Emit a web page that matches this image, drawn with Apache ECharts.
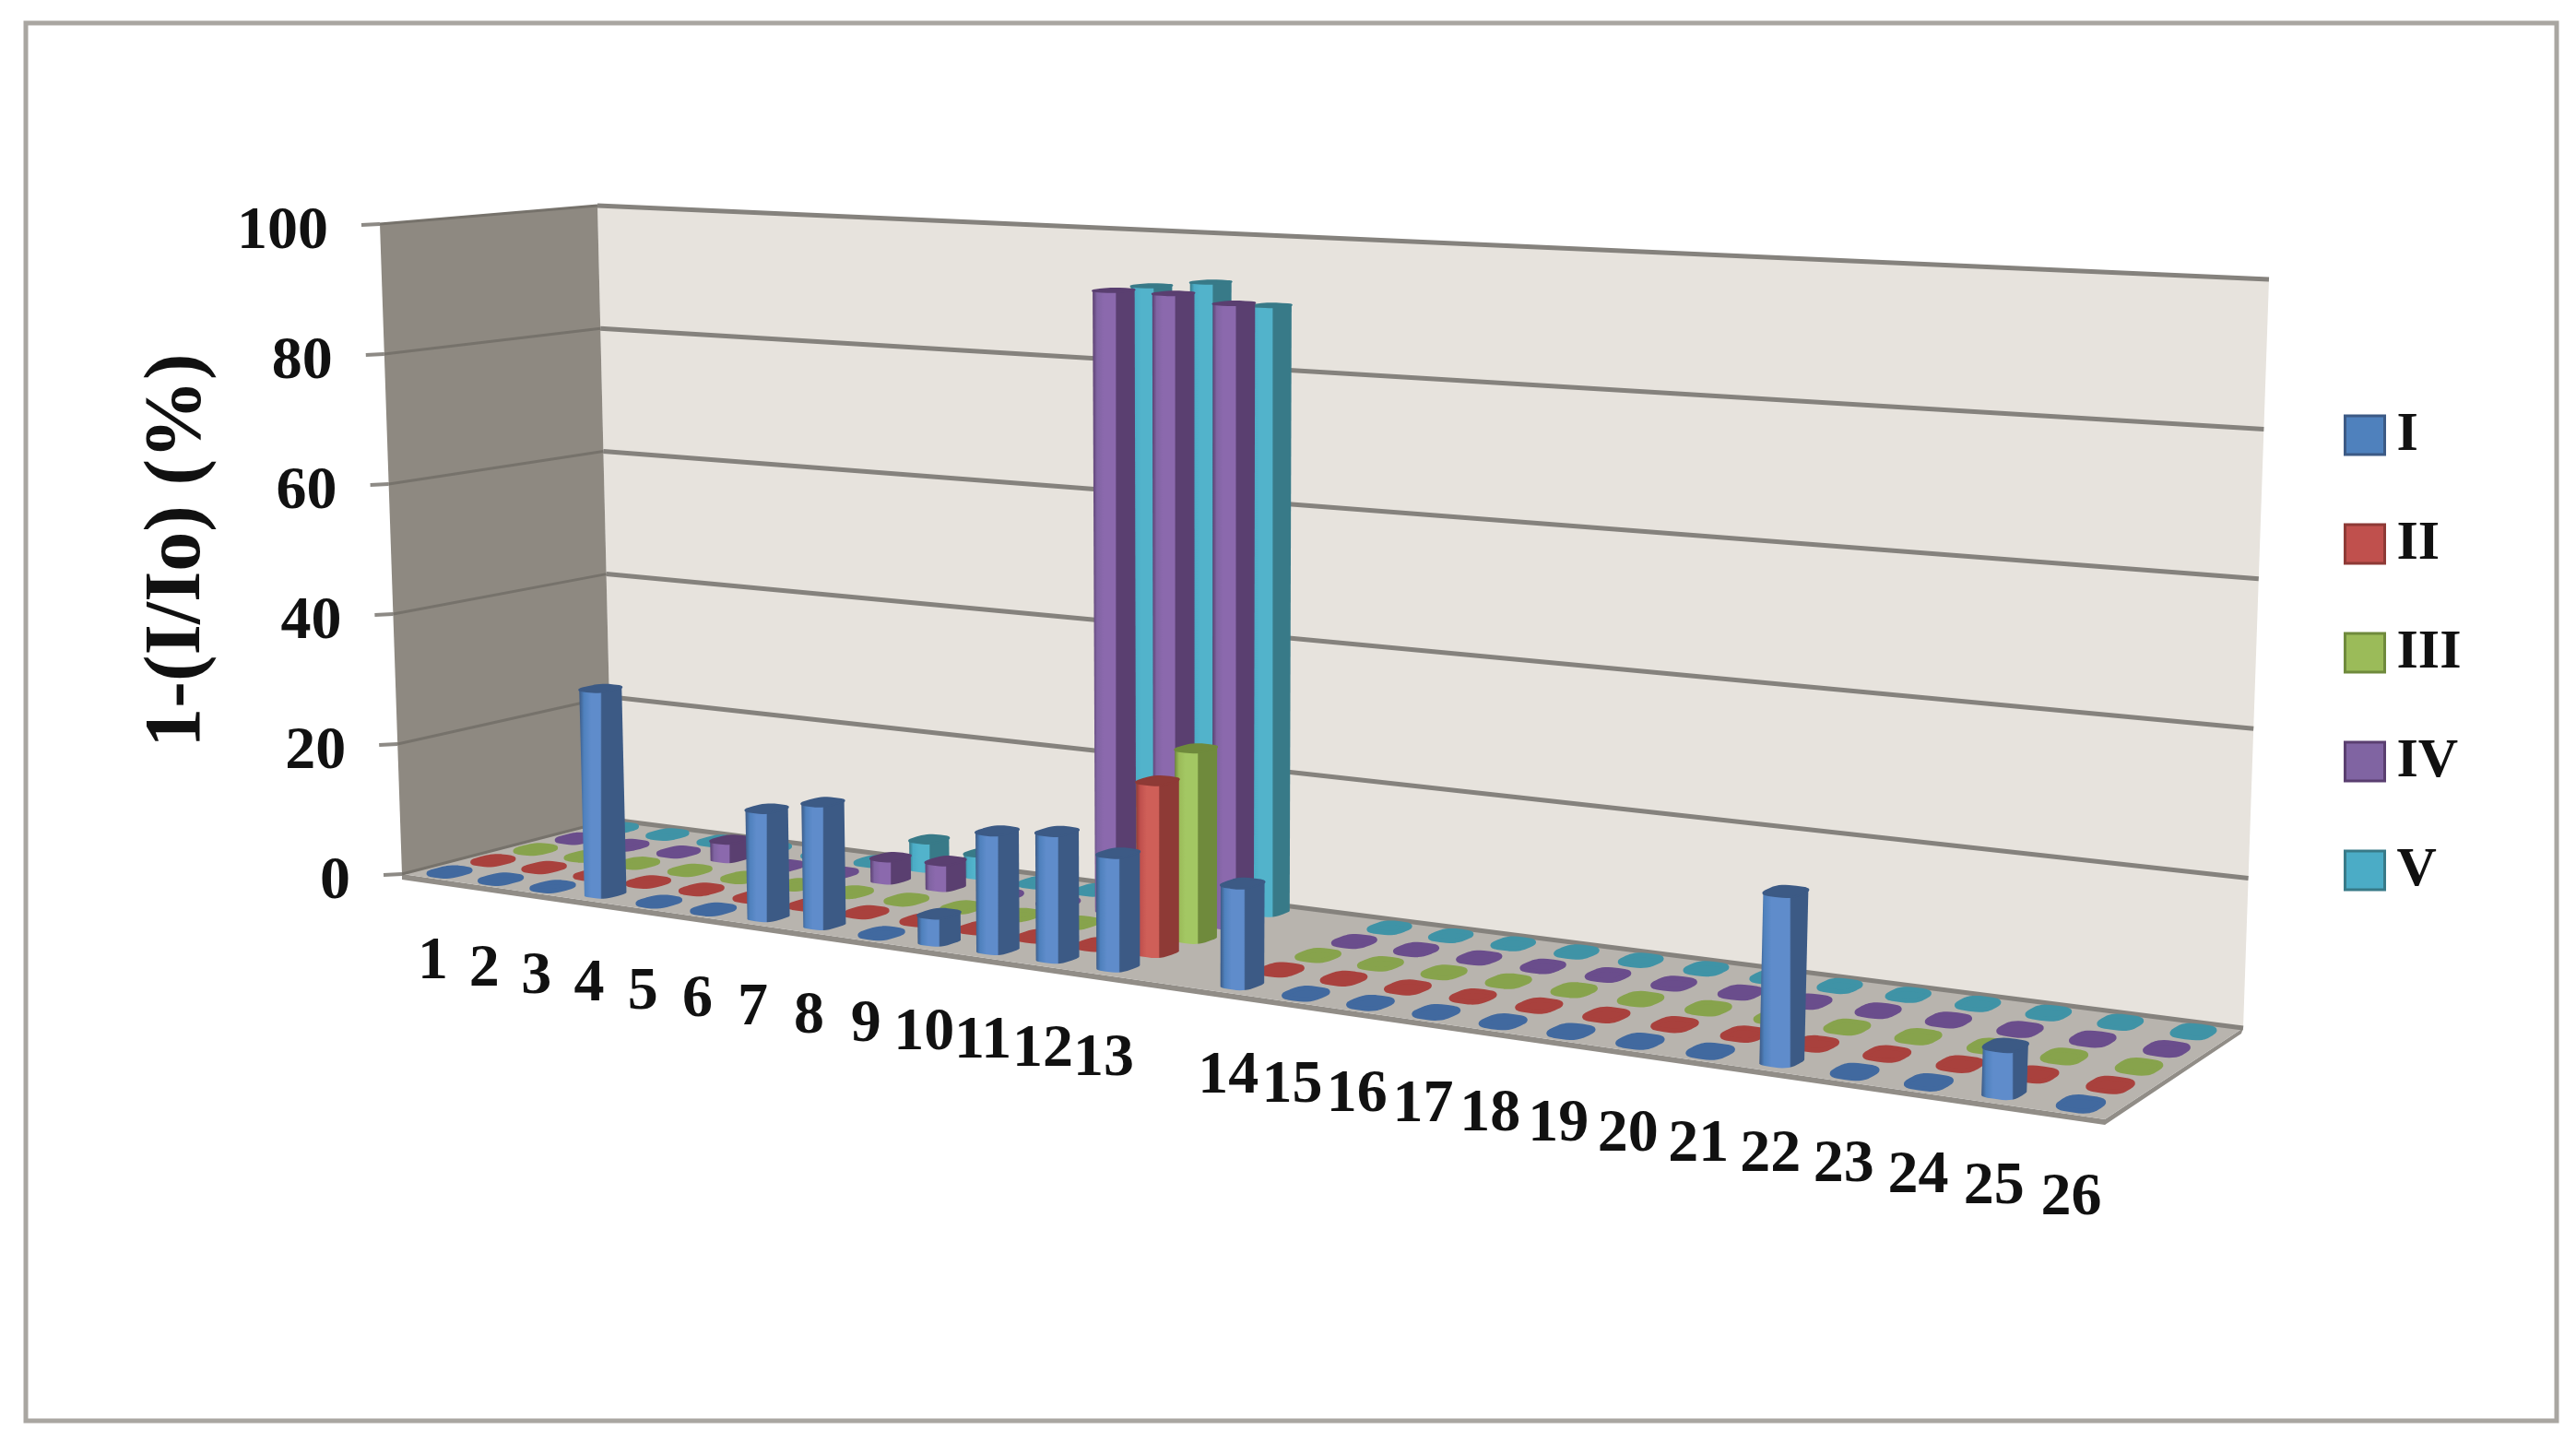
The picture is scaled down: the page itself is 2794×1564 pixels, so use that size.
<!DOCTYPE html>
<html>
<head>
<meta charset="utf-8">
<title>1-(I/Io) (%)</title>
<script src="https://cdn.jsdelivr.net/npm/echarts@6/dist/echarts.min.js"></script>
<style>
  html, body { margin: 0; padding: 0; background: #fff; }
  #chart { width: 2794px; height: 1564px; }
</style>
</head>
<body>
<div id="chart"></div>
<script>
// 数据 (the empty slot between 13 and 14 is in the original chart)
const categories = ['1','2','3','4','5','6','7','8','9','10','11','12','13','','14','15','16','17','18','19','20','21','22','23','24','25','26']
const yTicks = [0, 20, 40, 60, 80, 100]
const seriesNames = ['I', 'II', 'III', 'IV', 'V']
const valuesI = [0,0,0,31,0,0,16,18,0,4,17,18,16,null,14,0,0,0,0,0,0,0,22,0,0,6,0]
const valuesII = [0,0,0,0,0,0,0,0,0,0,0,0,24.5,null,0,0,0,0,0,0,0,0,0,0,0,0,0]
const valuesIII = [0,0,0,0,0,0,0,0,0,0,0,0,27.5,null,0,0,0,0,0,0,0,0,0,0,0,0,0]
const valuesIV = [0,0,0,3,0,0,3.5,4,0,0,92,92,91,null,0,0,0,0,0,0,0,0,0,0,0,0,0]
const valuesV = [0,0,0,0,0,0,4.5,3.5,0,0,92,93,90,null,0,0,0,0,0,0,0,0,0,0,0,0,0]
const allValues = [valuesI, valuesII, valuesIII, valuesIV, valuesV]

const FONT = '"Liberation Serif", serif'
const baseColors = ['#4f81bd', '#c0504d', '#9bbb59', '#8064a2', '#4bacc6']
const lightColors = ['#5f8ccb', '#cf5f58', '#a3c763', '#8b69ad', '#52b3cb']
const darkColors = ['#3c5a85', '#8e3a36', '#6f8a3c', '#5a3f70', '#387a88']
const flatColors = ['#41699f', '#a9413d', '#87a34c', '#6a4d8c', '#3f93a6']

// 盒子的八个角 (camera of the 3D view, in page pixels)
const floorQuad = [[436, 948], [2283, 1214], [2433, 1115], [664, 889]]
const topQuad = [[412, 243], [2313, 335], [2461, 303], [648, 223]]
const U_WARP = 0.93

function makeHomography(q) {
  const [p0, p1, p2, p3] = q
  const dx1 = p1[0] - p2[0], dx2 = p3[0] - p2[0], sx = p0[0] - p1[0] + p2[0] - p3[0]
  const dy1 = p1[1] - p2[1], dy2 = p3[1] - p2[1], sy = p0[1] - p1[1] + p2[1] - p3[1]
  const den = dx1 * dy2 - dx2 * dy1
  const g = (sx * dy2 - dx2 * sy) / den
  const h = (dx1 * sy - sx * dy1) / den
  const a = p1[0] - p0[0] + g * p1[0], b = p3[0] - p0[0] + h * p3[0]
  const d = p1[1] - p0[1] + g * p1[1], e = p3[1] - p0[1] + h * p3[1]
  return (u, w) => {
    const k = g * u + h * w + 1
    return [(a * u + b * w + p0[0]) / k, (d * u + e * w + p0[1]) / k]
  }
}

const floorMap = makeHomography(floorQuad)

function lerp(a, b, f) {
  return a + (b - a) * f
}

// u: along categories, w: depth, t: height (all 0..1)
function project(u, w, t) {
  const uu = u / (u + U_WARP * (1 - u))
  const p = floorMap(uu, w)
  // the height vector changes linearly across the page so grid lines stay straight
  const leftEnd = floorMap(0, w), rightEnd = floorMap(1, w)
  const f = (p[0] - leftEnd[0]) / (rightEnd[0] - leftEnd[0])
  const dx = lerp(
    lerp(topQuad[0][0] - floorQuad[0][0], topQuad[3][0] - floorQuad[3][0], w),
    lerp(topQuad[1][0] - floorQuad[1][0], topQuad[2][0] - floorQuad[2][0], w), f)
  const dy = lerp(
    lerp(topQuad[0][1] - floorQuad[0][1], topQuad[3][1] - floorQuad[3][1], w),
    lerp(topQuad[1][1] - floorQuad[1][1], topQuad[2][1] - floorQuad[2][1], w), f)
  return [p[0] + dx * t, p[1] + dy * t]
}

// 把隐藏坐标轴的像素值换成 0..1
function toUnit(api, params, slot, value) {
  const pt = api.coord([slot, value])
  const rect = params.coordSys
  return [(pt[0] - rect.x) / rect.width, (rect.y + rect.height - pt[1]) / rect.height]
}

const BAR_U = 0.47 / 27
const BAR_W = 0.62 / 5

function footprint(u0, w0) {
  const pts = []
  for (let i = 0; i < 28; i++) {
    const a = (i / 28) * Math.PI * 2
    const c = Math.cos(a), s = Math.sin(a)
    pts.push([
      u0 + (BAR_U / 2) * Math.sign(c) * Math.pow(Math.abs(c), 0.6),
      w0 + (BAR_W / 2) * Math.sign(s) * Math.pow(Math.abs(s), 0.6)
    ])
  }
  return pts
}

function makeBarItem(idx) {
  return function (params, api) {
    const slot = api.value(0)
    const value = api.value(1)
    if (isNaN(value)) return
    const [u0, t] = toUnit(api, params, slot, value)
    const w0 = (idx + 0.5) / 5
    const foot = footprint(u0, w0)
    const bottom = foot.map(p => project(p[0], p[1], 0))
    const cap = foot.map(p => project(p[0], p[1], t))

    if (value === 0) {
      return {
        type: 'polygon',
        shape: { points: bottom },
        style: { fill: flatColors[idx], stroke: flatColors[idx], lineWidth: 5, lineJoin: 'round' }
      }
    }

    // body outline: right edge, front bottom arc, left edge
    let minI = 0, maxI = 0
    bottom.forEach((p, i) => {
      if (p[0] < bottom[minI][0]) minI = i
      if (p[0] > bottom[maxI][0]) maxI = i
    })
    const arc = []
    for (let i = maxI; i !== minI; i = (i - 1 + 28) % 28) arc.push(bottom[i])
    arc.push(bottom[minI])
    const body = [cap[minI], cap[maxI]].concat(arc)
    const minX = bottom[minI][0], maxX = bottom[maxI][0]
    const corner = project(u0 + BAR_U / 2, w0 - BAR_W / 2, 0)
    const cut = Math.min(0.9, Math.max(0.1, (corner[0] - minX) / (maxX - minX)))

    return {
      type: 'group',
      children: [
        {
          type: 'polygon',
          shape: { points: body },
          style: {
            fill: {
              type: 'linear', x: 0, y: 0, x2: 1, y2: 0,
              colorStops: [
                { offset: 0, color: darkColors[idx] },
                { offset: 0.1, color: baseColors[idx] },
                { offset: 0.25, color: lightColors[idx] },
                { offset: cut - 0.03, color: lightColors[idx] },
                { offset: cut, color: darkColors[idx] },
                { offset: 1, color: darkColors[idx] }
              ]
            }
          }
        },
        {
          type: 'polygon',
          shape: { points: cap },
          style: { fill: darkColors[idx], stroke: darkColors[idx], lineWidth: 2, lineJoin: 'round' }
        }
      ]
    }
  }
}

function renderWalls(params, api) {
  const leftWall = [project(0, 0, 0), project(0, 1, 0), project(0, 1, 1), project(0, 0, 1)]
  const backWall = [project(0, 1, 0), project(1, 1, 0), project(1, 1, 1), project(0, 1, 1)]
  const floor = [project(0, 0, 0), project(1, 0, 0), project(1, 1, 0), project(0, 1, 0)]
  const slab = [floor[0], floor[1], floor[2], [floor[2][0] - 2, floor[2][1] + 6], [floor[1][0], floor[1][1] + 6], [floor[0][0], floor[0][1] + 6]]
  return {
    type: 'group',
    children: [
      { type: 'polygon', shape: { points: backWall }, style: { fill: '#e7e3dd' } },
      { type: 'polygon', shape: { points: leftWall }, style: { fill: '#8e8981' } },
      { type: 'polygon', shape: { points: slab }, style: { fill: '#918d87' } },
      { type: 'polygon', shape: { points: floor }, style: { fill: '#b8b4ae' } }
    ]
  }
}

function renderGridLine(params, api) {
  const t = toUnit(api, params, 0, api.value(0))[1]
  const a = project(0, 0, t), b = project(0, 1, t), c = project(1, 1, t)
  return {
    type: 'group',
    children: [
      { type: 'line', shape: { x1: a[0] - 20, y1: a[1] + 1, x2: a[0], y2: a[1] }, style: { stroke: '#8d8a85', lineWidth: 4 } },
      { type: 'line', shape: { x1: a[0], y1: a[1], x2: b[0], y2: b[1] }, style: { stroke: '#76726b', lineWidth: 3 } },
      { type: 'line', shape: { x1: b[0], y1: b[1], x2: c[0], y2: c[1] }, style: { stroke: '#85827d', lineWidth: 5 } },
      {
        type: 'text', x: a[0] - 56, y: a[1] + 9,
        style: { text: String(api.value(0)), font: 'bold 66px ' + FONT, fill: '#111', align: 'right', verticalAlign: 'middle' }
      }
    ]
  }
}

function renderCategoryLabel(params, api) {
  const u = toUnit(api, params, api.value(0), 0)[0]
  const p = project(u, 0, 0)
  return {
    type: 'text', x: p[0] + 6, y: p[1] + 92,
    style: { text: categories[api.value(0)], font: 'bold 66px ' + FONT, fill: '#111', align: 'center', verticalAlign: 'middle' }
  }
}

const barSeries = seriesNames.map((name, idx) => ({
  name,
  type: 'custom',
  coordinateSystem: 'cartesian2d',
  z: 10 - idx,
  silent: true,
  itemStyle: { color: baseColors[idx] },
  renderItem: makeBarItem(idx),
  data: allValues[idx].map((v, i) => [i, v])
}))

const chart = echarts.init(document.getElementById('chart'), null, { renderer: 'canvas' })
chart.setOption({
  animation: false,
  backgroundColor: '#ffffff',
  // 隐藏的坐标轴，只用来做比例尺
  grid: { left: 0, right: 0, top: 0, bottom: 0 },
  xAxis: { type: 'category', data: categories, show: false },
  yAxis: { type: 'value', min: 0, max: 100, interval: 20, show: false },
  legend: {
    orient: 'vertical',
    left: 2542,
    top: 442,
    padding: 0,
    itemWidth: 43,
    itemHeight: 42,
    itemGap: 58,
    selectedMode: false,
    icon: 'rect',
    textStyle: { fontFamily: FONT, fontWeight: 'bold', fontSize: 60, color: '#111', padding: [0, 0, 0, 8] },
    data: seriesNames.map((name, idx) => ({
      name,
      itemStyle: { color: baseColors[idx], borderColor: darkColors[idx], borderWidth: 3 }
    }))
  },
  graphic: [
    {
      type: 'rect',
      z: 0,
      shape: { x: 28, y: 25, width: 2745, height: 1516 },
      style: { fill: 'none', stroke: '#a9a6a1', lineWidth: 5 }
    },
    {
      type: 'text',
      x: 194,
      y: 597,
      rotation: Math.PI / 2,
      style: { text: '1-(I/Io) (%)', font: 'bold 86px ' + FONT, fill: '#111', align: 'center', verticalAlign: 'middle' }
    }
  ],
  series: [
    { type: 'custom', name: 'walls', z: 1, silent: true, renderItem: renderWalls, data: [[0, 0]] },
    { type: 'custom', name: 'ticks', z: 2, silent: true, renderItem: renderGridLine, data: yTicks.map(v => [v]), encode: { x: -1, y: 0 } },
    { type: 'custom', name: 'labels', z: 3, silent: true, renderItem: renderCategoryLabel, data: categories.map((c, i) => [i]), encode: { x: 0, y: -1 } }
  ].concat(barSeries)
})
</script>
</body>
</html>
